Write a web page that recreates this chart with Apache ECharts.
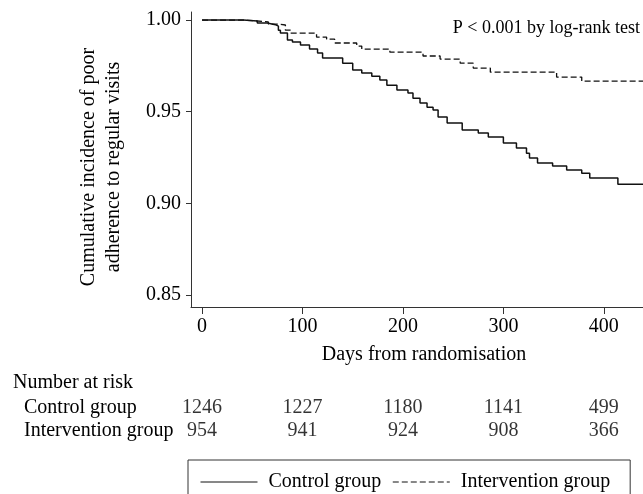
<!DOCTYPE html>
<html>
<head>
<meta charset="utf-8">
<script src="https://cdn.jsdelivr.net/npm/echarts@6/dist/echarts.min.js"></script>
<style>
html,body{margin:0;padding:0;background:#fff;}
#chart{width:643px;height:494px;}
</style>
</head>
<body>
<div id="chart"></div>
<script>
// ---- data ----
var controlDays = [0, 41, 55, 65, 73, 76, 78, 85, 90, 98, 107, 115, 120, 140, 150, 159, 169, 177, 184, 194, 205, 210, 217, 224, 230, 235, 244, 259, 275, 285, 300, 313, 323, 326, 334, 349, 363, 378, 386, 414, 439];
var controlVals = [1.000, 0.9995, 0.9984, 0.9975, 0.9967, 0.9945, 0.9929, 0.9891, 0.9880, 0.9864, 0.9842, 0.9820, 0.9793, 0.9765, 0.9727, 0.9711, 0.9694, 0.9673, 0.9645, 0.9618, 0.9602, 0.9574, 0.9547, 0.9525, 0.9509, 0.9471, 0.9438, 0.9400, 0.9384, 0.9362, 0.9329, 0.9302, 0.9274, 0.9247, 0.9220, 0.9204, 0.9182, 0.9165, 0.9138, 0.9105, 0.9105];
var interventionDays = [0, 41, 55, 66, 76, 83, 88, 114, 124, 132, 154, 159, 187, 220, 237, 257, 270, 287, 353, 378, 439];
var interventionVals = [1.000, 0.9995, 0.9990, 0.9978, 0.9973, 0.9945, 0.9929, 0.9907, 0.9896, 0.9875, 0.9858, 0.9842, 0.9825, 0.9804, 0.9787, 0.9765, 0.9738, 0.9716, 0.9689, 0.9667, 0.9667];
var xTicks = [0, 100, 200, 300, 400];
var yTicks = [0.85, 0.90, 0.95, 1.00];
var riskDays = [0, 100, 200, 300, 400];
var groups = ['Control group', 'Intervention group'];
var controlRisk = [1246, 1227, 1180, 1141, 499];
var interventionRisk = [954, 941, 924, 908, 366];

// ---- build ----
function pairs(xs, ys){ return xs.map(function(x,i){ return [x, ys[i]]; }); }
var riskData = [];
riskDays.forEach(function(d,i){ riskData.push([d, 0, controlRisk[i]]); });
riskDays.forEach(function(d,i){ riskData.push([d, 1, interventionRisk[i]]); });

var FONT = 'Liberation Serif';
var chart = echarts.init(document.getElementById('chart'), null, {renderer:'canvas'});
chart.setOption({
  animation: false,
  backgroundColor: '#fff',
  textStyle: { fontFamily: FONT, color: '#000' },
  grid: [
    { left: 191, top: 12, width: 452, height: 295 },
    { left: 191, top: 396.5, width: 452, height: 46 }
  ],
  xAxis: [{
    type: 'value', gridIndex: 0, min: -11, max: 439,
    name: 'Days from randomisation', nameLocation: 'middle', nameGap: 38,
    nameTextStyle: { fontSize: 20, fontFamily: FONT, color: '#000', padding: [0,0,0,14] },
    axisLine: { show: true, onZero: false, lineStyle: { color: '#333', width: 1 } },
    axisTick: { show: true, length: 7, customValues: xTicks, lineStyle: { color: '#333' } },
    axisLabel: { customValues: xTicks, margin: 10, fontSize: 20, fontFamily: FONT, color: '#000' },
    splitLine: { show: false }
  }, {
    type: 'value', gridIndex: 1, min: -11, max: 439, show: false
  }],
  yAxis: [{
    type: 'value', gridIndex: 0, min: 0.8435, max: 1.0044,
    name: 'Cumulative incidence of poor\nadherence to regular visits',
    nameLocation: 'middle', nameGap: 65, nameRotate: 90,
    nameTextStyle: { fontSize: 20, lineHeight: 25, fontFamily: FONT, color: '#000', padding: [0,15,0,0] },
    axisLine: { show: true, onZero: false, lineStyle: { color: '#333', width: 1 } },
    axisTick: { show: true, length: 5, customValues: yTicks, lineStyle: { color: '#333' } },
    axisLabel: { customValues: yTicks, margin: 10, fontSize: 20, fontFamily: FONT, color: '#000',
      formatter: function(v){ return v.toFixed(2); } },
    splitLine: { show: false }
  }, {
    type: 'category', gridIndex: 1, data: groups, inverse: true,
    axisLine: { show: false }, axisTick: { show: false }, splitLine: { show: false },
    axisLabel: { interval: 0, align: 'left', margin: 167, fontSize: 20, fontFamily: FONT, color: '#000' }
  }],
  legend: {
    data: ['Control group', 'Intervention group'],
    left: 188, top: 460,
    borderColor: '#333', borderWidth: 1, borderRadius: 0,
    padding: [12, 20, 14, 12],
    itemWidth: 57, itemHeight: 10, itemGap: 11,
    itemStyle: { opacity: 0 },
    lineStyle: { width: 1 },
    textStyle: { fontSize: 20, fontFamily: FONT, color: '#000', padding: [0,0,0,6] }
  },
  graphic: [
    { type: 'text', right: 3, top: 19, style: { text: 'P < 0.001 by log-rank test', font: '18px "Liberation Serif"', fill: '#000' } },
    { type: 'text', left: 13, top: 373, style: { text: 'Number at risk', font: '20px "Liberation Serif"', fill: '#000' } }
  ],
  series: [{
    name: 'Control group', type: 'line', step: 'end', xAxisIndex: 0, yAxisIndex: 0,
    data: pairs(controlDays, controlVals), symbol: 'none', showSymbol: false, clip: true,
    lineStyle: { color: '#111', width: 1.5, type: 'solid' }, itemStyle: { color: '#111' }
  }, {
    name: 'Intervention group', type: 'line', step: 'end', xAxisIndex: 0, yAxisIndex: 0,
    data: pairs(interventionDays, interventionVals), symbol: 'none', showSymbol: false, clip: true,
    lineStyle: { color: '#111', width: 1.3, type: [6, 3] }, itemStyle: { color: '#111' }
  }, {
    name: 'risk', type: 'scatter', xAxisIndex: 1, yAxisIndex: 1,
    data: riskData, symbolSize: 2, itemStyle: { color: 'rgba(0,0,0,0)' },
    label: { show: true, position: 'inside', fontSize: 20, fontFamily: FONT, color: '#000',
      formatter: function(p){ return String(p.value[2]); } },
    labelLayout: { hideOverlap: false },
    silent: true
  }]
});
</script>
</body>
</html>
